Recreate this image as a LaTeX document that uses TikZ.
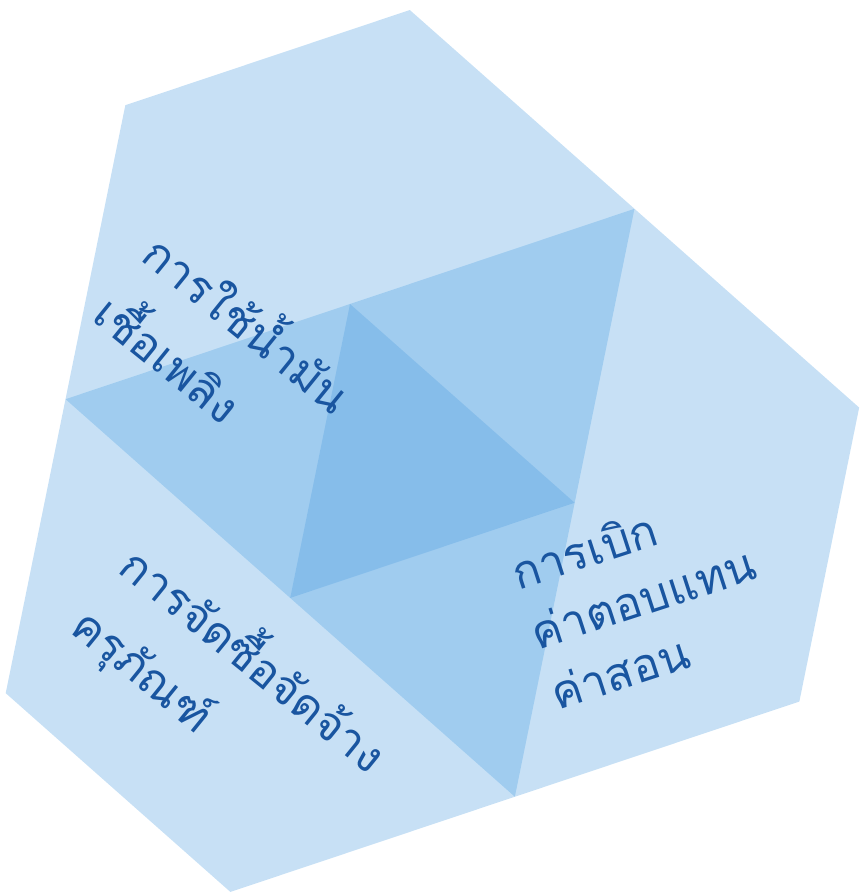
\documentclass[tikz,border=0pt]{standalone}
\usepackage{fontspec}
\newfontfamily\thaifont[Script=Thai]{Loma}
\usepackage{tkz-euclide}
\definecolor{hexblue}{RGB}{80,160,225}
\definecolor{textblue}{RGB}{25,85,160}

\begin{document}
\begin{tikzpicture}[scale=1,
        hextext/.style={font=\thaifont\fontsize{13}{22}\selectfont,text=textblue,align=left,inner sep=0pt}]
        \tkzInit[xmin=0,ymin=0,xmax=8.6,ymax=8.92]
        \tkzClip
        \tkzDefPoint(3.50,5.88){A}
        \tkzDefShiftPoint[A](-41.5:3){B}
        \tkzDefShiftPoint[A](-101.5:3){C}
        \foreach \c in {A,B,C}{%
            \foreach \k in {0,...,5}{%
                \pgfmathsetmacro{\ang}{18.5+60*\k}
                \tkzDefShiftPoint[\c](\ang:3){\c\k}}
            \tkzFillPolygon[fill=hexblue,fill opacity=.32](\c0,\c1,\c2,\c3,\c4,\c5)}
        \node[hextext,rotate=-39] (fuel) at (2.27,5.43) {การใช้น้ำมัน\\เชื้อเพลิง};
        \node[hextext,rotate=18,font=\thaifont\fontsize{13}{18}\selectfont] (pay) at (6.43,2.95) {การเบิก\\ค่าตอบแทน\\ค่าสอน};
        \node[hextext,rotate=-39] (buy) at (2.30,2.03) {การจัดซื้อจัดจ้าง\\ครุภัณฑ์};
    \end{tikzpicture}
\end{document}
